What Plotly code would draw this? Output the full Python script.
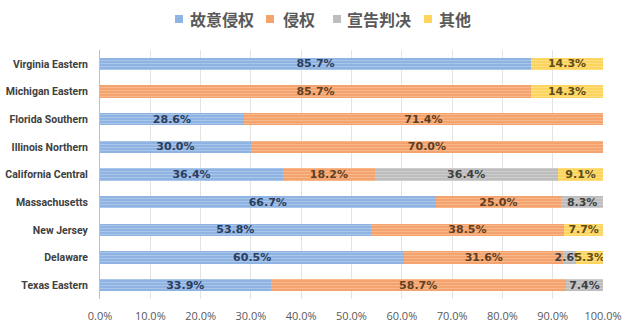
import plotly.graph_objects as go

# Districts, top to bottom
districts = ["Virginia Eastern", "Michigan Eastern", "Florida Southern", "Illinois Northern",
             "California Central", "Massachusetts", "New Jersey", "Delaware", "Texas Eastern"]

series_names = ["故意侵权", "侵权", "宣告判决", "其他"]
willful = [85.7, 0, 28.6, 30.0, 36.4, 66.7, 53.8, 60.5, 33.9]
infringe = [0, 85.7, 71.4, 70.0, 18.2, 25.0, 38.5, 31.6, 58.7]
declaratory = [0, 0, 0, 0, 36.4, 8.3, 0, 2.6, 7.4]
other = [14.3, 14.3, 0, 0, 9.1, 0, 7.7, 5.3, 0]

x_ticks = [0, 10, 20, 30, 40, 50, 60, 70, 80, 90, 100]
x_tick_labels = ["0.0%", "10.0%", "20.0%", "30.0%", "40.0%", "50.0%",
                 "60.0%", "70.0%", "80.0%", "90.0%", "100.0%"]

styles = [
    dict(base="#8fb4e3", stripe="#c4d7f0", text="#2b3d5c"),
    dict(base="#f4a26e", stripe="#f9cda9", text="#5f3f22"),
    dict(base="#bdbdbd", stripe="#dedede", text="#3f3f3f"),
    dict(base="#fdd45e", stripe="#fde9a6", text="#5e4c18"),
]

# plot-area geometry in pixels (used to place the header legend)
W, H = 640, 331
ML, MR, MT, MB = 100, 37, 50, 32
PW, PH = W - ML - MR, H - MT - MB


def px_x(px):
    return (px - ML) / PW


def px_y(py):
    return (H - MB - py) / PH


fig = go.Figure()
for name, vals, st in zip(series_names, [willful, infringe, declaratory, other], styles):
    labels = [f"{v:.1f}%" if v > 0 else "" for v in vals]
    fig.add_trace(go.Bar(
        name=name,
        y=districts,
        x=vals,
        orientation="h",
        text=labels,
        textposition="inside",
        insidetextanchor="middle",
        constraintext="none",
        textangle=0,
        textfont=dict(family="DejaVu Sans", size=11, color=st["text"], weight="bold"),
        marker=dict(
            color=st["base"],
            line=dict(width=0),
            pattern=dict(shape="-", fgcolor=st["stripe"], fillmode="overlay",
                         size=3, solidity=0.35),
        ),
        hoverinfo="skip",
        showlegend=False,
    ))

# header legend: small colour squares followed by bold series names
legend_items = [(175, 188), (266, 281), (333, 345), (424, 437)]
shapes = []
annotations = []
for (sq_x, txt_x), name, st in zip(legend_items, series_names, styles):
    shapes.append(dict(
        type="rect", xref="paper", yref="paper",
        x0=px_x(sq_x), x1=px_x(sq_x + 8),
        y0=px_y(23), y1=px_y(15),
        fillcolor=st["base"], line=dict(width=0),
    ))
    annotations.append(dict(
        text=name, xref="paper", yref="paper",
        x=px_x(txt_x), y=px_y(19), xanchor="left", yanchor="middle",
        showarrow=False,
        font=dict(family="Noto Sans CJK SC", size=16, color="#595959", weight="bold"),
    ))

fig.update_layout(
    barmode="stack",
    bargap=0.56,
    width=W,
    height=H,
    margin=dict(l=ML, r=MR, t=MT, b=MB),
    paper_bgcolor="white",
    plot_bgcolor="white",
    showlegend=False,
    shapes=shapes,
    annotations=annotations,
)

fig.update_xaxes(
    range=[0, 100],
    tickvals=x_ticks,
    ticktext=x_tick_labels,
    showgrid=True,
    gridcolor="#e3e3e3",
    gridwidth=1,
    zeroline=False,
    showline=False,
    automargin=False,
    ticklabelstandoff=9,
    tickfont=dict(family="Open Sans", size=11, color="#595959"),
    ticks="",
)

fig.update_yaxes(
    autorange="reversed",
    showline=True,
    linecolor="#bfbfbf",
    linewidth=1,
    showgrid=False,
    ticks="",
    automargin=False,
    ticklabelstandoff=9,
    tickfont=dict(family="Roboto", size=10.5, color="#404040", weight="bold"),
)

fig.write_html("out.html")
